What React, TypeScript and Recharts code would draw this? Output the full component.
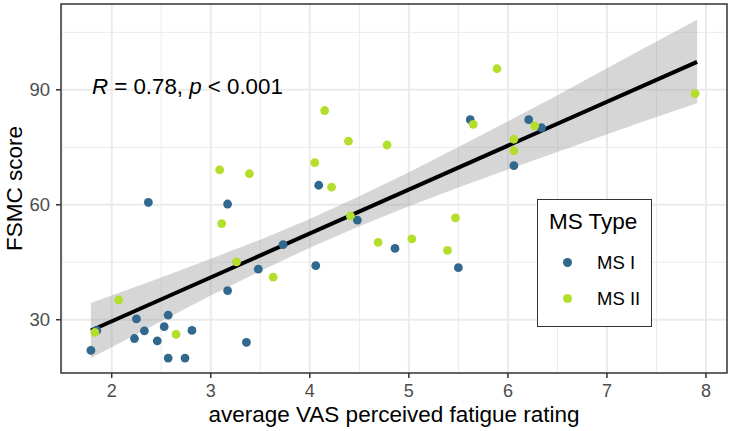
import React from "react";
import {
  Area,
  CartesianGrid,
  ComposedChart,
  Label,
  Legend,
  Line,
  ReferenceArea,
  ReferenceDot,
  Scatter,
  XAxis,
  YAxis,
} from "recharts";

// MS I participants
const msIVas = [1.79, 1.85, 2.23, 2.25, 2.33, 2.37, 2.46, 2.53, 2.57, 2.57, 2.74, 2.81, 3.17, 3.17, 3.36, 3.48, 3.73, 4.06, 4.09, 4.48, 4.86, 5.5, 5.62, 6.06, 6.21, 6.34];
const msIFsmc = [22.0, 27.2, 25.1, 30.2, 27.1, 60.6, 24.5, 28.2, 31.2, 20.0, 20.0, 27.2, 60.2, 37.6, 24.1, 43.2, 49.6, 44.1, 65.1, 56.0, 48.6, 43.6, 82.2, 70.2, 82.2, 80.1];

// MS II participants
const msIIVas = [1.83, 2.07, 2.65, 3.09, 3.11, 3.26, 3.39, 3.63, 4.05, 4.15, 4.22, 4.39, 4.41, 4.69, 4.78, 5.03, 5.39, 5.47, 5.65, 5.89, 6.06, 6.06, 6.27, 7.89];
const msIIFsmc = [26.7, 35.2, 26.2, 69.1, 55.1, 45.1, 68.1, 41.1, 71.0, 84.6, 64.6, 76.6, 57.1, 50.2, 75.6, 51.1, 48.1, 56.6, 81.0, 95.5, 77.1, 74.1, 80.6, 89.0];

// fitted line end points and confidence band
const fitVas = [1.79, 7.91];
const fitFsmc = [27.2, 97.3];
const bandVas = [1.79, 2.5, 3, 3.5, 4, 4.5, 5, 5.5, 6, 6.5, 7, 7.5, 7.91];
const bandLow = [20.0, 29.6, 36.3, 42.7, 48.8, 54.4, 59.6, 64.5, 69.2, 73.8, 78.4, 82.9, 86.5];
const bandHigh = [34.4, 41.0, 45.9, 50.9, 56.3, 62.2, 68.5, 75.1, 81.8, 88.6, 95.6, 102.6, 108.3];

const xTicks = [2, 3, 4, 5, 6, 7, 8];
const xMinor = [1.5, 2.5, 3.5, 4.5, 5.5, 6.5, 7.5];
const yTicks = [30, 60, 90];
const yMinor = [45, 75, 105];

const groups = ["MS I", "MS II"];
const COLORS = ["#31688E", "#B4DE2C"];

const X_DOMAIN: [number, number] = [1.488, 8.212];
const Y_DOMAIN: [number, number] = [16.1, 112.4];

const FONT = "'Liberation Sans', Arial, sans-serif";

const msI = msIVas.map((v, i) => ({ vas: v, fsmc: msIFsmc[i] }));
const msII = msIIVas.map((v, i) => ({ vas: v, fsmc: msIIFsmc[i] }));
const fit = fitVas.map((v, i) => ({ vas: v, fit: fitFsmc[i] }));
const band = bandVas.map((v, i) => ({ vas: v, band: [bandLow[i], bandHigh[i]] }));

const dot = (color: string) => (props: any) => (
  <circle cx={props.cx} cy={props.cy} r={4.4} fill={color} />
);

const LegendBox = () => (
  <div
    style={{
      position: "relative",
      width: 113,
      height: 126,
      background: "#fff",
      border: "1px solid #333",
      fontFamily: FONT,
    }}
  >
    <div style={{ position: "absolute", left: 11, top: 10, fontSize: 22.5, lineHeight: "24px", whiteSpace: "nowrap" }}>
      MS Type
    </div>
    {groups.map((g, i) => (
      <div
        key={g}
        style={{ position: "absolute", left: 0, top: 52 + i * 36, height: 20, width: 113 }}
      >
        <span
          style={{
            position: "absolute",
            left: 25,
            top: 6,
            width: 9,
            height: 9,
            borderRadius: "50%",
            background: COLORS[i],
          }}
        />
        <span style={{ position: "absolute", left: 59, top: 0, fontSize: 18.5, lineHeight: "21px", whiteSpace: "nowrap" }}>
          {g}
        </span>
      </div>
    ))}
  </div>
);

const CorLabel = (props: any) => {
  const { x, y } = props.viewBox;
  return (
    <text x={x} y={y + 4} fontSize={22.3} fill="#000" fontFamily={FONT}>
      <tspan fontStyle="italic">R</tspan>
      <tspan> = 0.78, </tspan>
      <tspan fontStyle="italic">p</tspan>
      <tspan> &lt; 0.001</tspan>
    </text>
  );
};

const YTitle = (props: any) => {
  const { x, y, height } = props.viewBox;
  const cx = x + 14;
  const cy = y + height / 2;
  return (
    <text
      x={cx}
      y={cy}
      transform={`rotate(-90, ${cx}, ${cy})`}
      textAnchor="middle"
      dominantBaseline="central"
      fontSize={22.5}
      fill="#000"
      fontFamily={FONT}
    >
      FSMC score
    </text>
  );
};

export default function App() {
  return (
    <div style={{ position: "absolute", left: 0, top: 0, background: "#fff" }}>
      <ComposedChart
        width={730}
        height={431}
        data={band}
        margin={{ top: 4, right: 3, bottom: 0, left: 0 }}
        style={{ fontFamily: FONT }}
      >
        <CartesianGrid
          stroke="#EBEBEB"
          strokeWidth={1}
          verticalValues={xMinor}
          horizontalValues={yMinor}
        />
        <CartesianGrid
          stroke="#EBEBEB"
          strokeWidth={2}
          verticalValues={xTicks}
          horizontalValues={yTicks}
        />
        <XAxis
          type="number"
          dataKey="vas"
          domain={X_DOMAIN}
          ticks={xTicks}
          allowDataOverflow
          height={58}
          axisLine={false}
          tickLine={{ stroke: "#333", strokeWidth: 1.5 }}
          tickSize={5}
          tickMargin={6}
          tick={{ fill: "#4D4D4D", fontSize: 18 }}
        >
          <Label
            value="average VAS perceived fatigue rating"
            position="insideBottom"
            offset={9}
            fill="#000"
            fontSize={22.5}
          />
        </XAxis>
        <YAxis
          type="number"
          domain={Y_DOMAIN}
          ticks={yTicks}
          allowDataOverflow
          width={61}
          axisLine={false}
          tickLine={{ stroke: "#333", strokeWidth: 1.5 }}
          tickSize={5}
          tickMargin={6}
          tick={{ fill: "#4D4D4D", fontSize: 18.5 }}
        >
          <Label content={YTitle} />
        </YAxis>
        <Area
          type="linear"
          dataKey="band"
          stroke="none"
          fill="#999999"
          fillOpacity={0.4}
          dot={false}
          activeDot={false}
          isAnimationActive={false}
          legendType="none"
        />
        <Line
          data={fit}
          type="linear"
          dataKey="fit"
          stroke="#000"
          strokeWidth={4}
          dot={false}
          activeDot={false}
          isAnimationActive={false}
          legendType="none"
        />
        <Scatter
          name={groups[0]}
          data={msI}
          dataKey="fsmc"
          fill={COLORS[0]}
          shape={dot(COLORS[0])}
          isAnimationActive={false}
        />
        <Scatter
          name={groups[1]}
          data={msII}
          dataKey="fsmc"
          fill={COLORS[1]}
          shape={dot(COLORS[1])}
          isAnimationActive={false}
        />
        <ReferenceDot x={1.8} y={90} r={0} fill="none" stroke="none" label={<CorLabel />} />
        <ReferenceArea
          x1={X_DOMAIN[0]}
          x2={X_DOMAIN[1]}
          y1={Y_DOMAIN[0]}
          y2={Y_DOMAIN[1]}
          fill="none"
          stroke="#333"
          strokeWidth={1.5}
          ifOverflow="visible"
        />
        <Legend
          layout="horizontal"
          verticalAlign="middle"
          align="center"
          content={LegendBox}
          wrapperStyle={{ position: "absolute", left: 537, top: 199, width: 115, height: 128 }}
        />
      </ComposedChart>
    </div>
  );
}
